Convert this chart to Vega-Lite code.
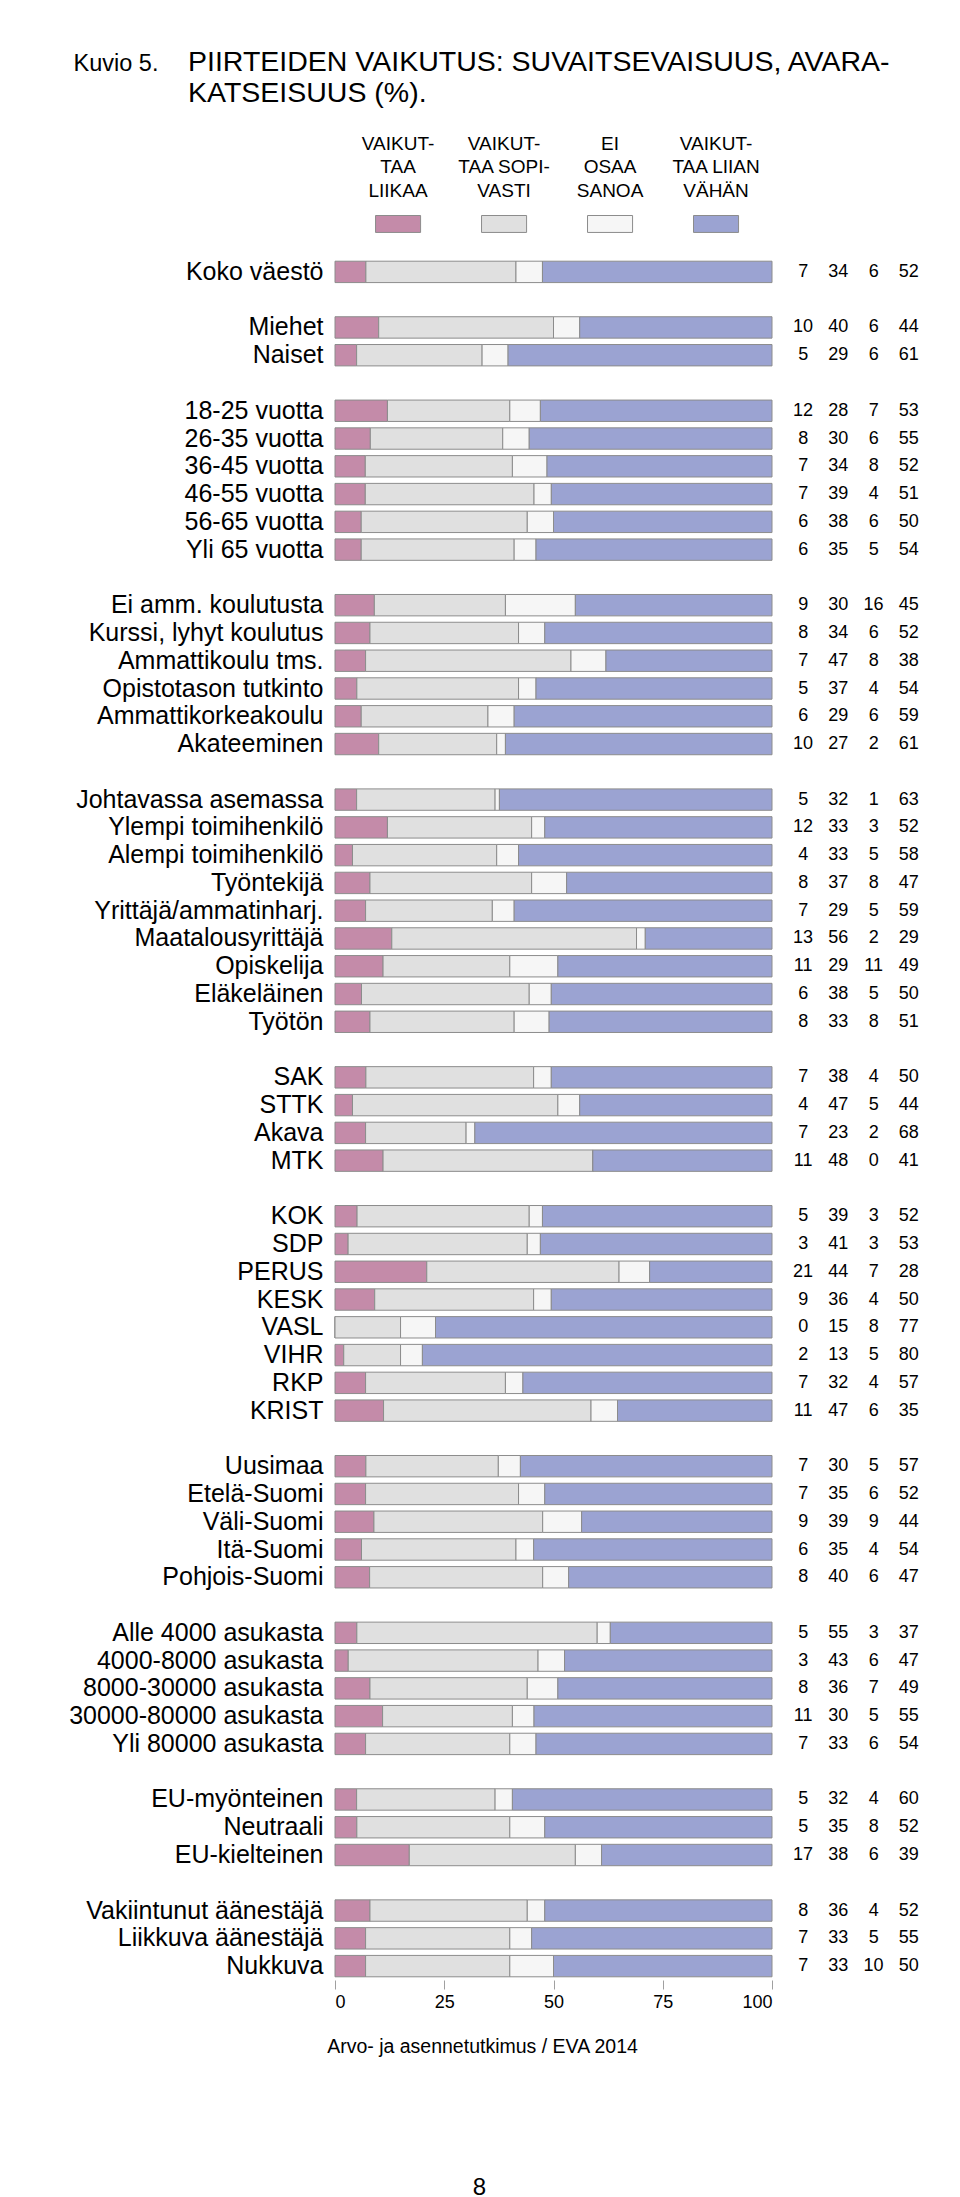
{
  "$schema": "https://vega.github.io/schema/vega-lite/v6.json",
  "background": "white",
  "padding": {"left": 68, "top": 48, "right": 30, "bottom": 0},
  "config": {"font": "Liberation Sans", "view": {"stroke": null}},
  "bounds": "flush",
  "align": "each",
  "columns": 2,
  "spacing": {"row": 25, "column": 13.5},
  "resolve": {"scale": {"x": "independent", "y": "independent", "color": "shared"}},
  "datasets": {
    "rows": [
      {"g": "Koko väestö", "a": 7, "b": 34, "c": 6, "d": 52},
      {"g": "Miehet", "a": 10, "b": 40, "c": 6, "d": 44},
      {"g": "Naiset", "a": 5, "b": 29, "c": 6, "d": 61},
      {"g": "18-25 vuotta", "a": 12, "b": 28, "c": 7, "d": 53},
      {"g": "26-35 vuotta", "a": 8, "b": 30, "c": 6, "d": 55},
      {"g": "36-45 vuotta", "a": 7, "b": 34, "c": 8, "d": 52},
      {"g": "46-55 vuotta", "a": 7, "b": 39, "c": 4, "d": 51},
      {"g": "56-65 vuotta", "a": 6, "b": 38, "c": 6, "d": 50},
      {"g": "Yli 65 vuotta", "a": 6, "b": 35, "c": 5, "d": 54},
      {"g": "Ei amm. koulutusta", "a": 9, "b": 30, "c": 16, "d": 45},
      {"g": "Kurssi, lyhyt koulutus", "a": 8, "b": 34, "c": 6, "d": 52},
      {"g": "Ammattikoulu tms.", "a": 7, "b": 47, "c": 8, "d": 38},
      {"g": "Opistotason tutkinto", "a": 5, "b": 37, "c": 4, "d": 54},
      {"g": "Ammattikorkeakoulu", "a": 6, "b": 29, "c": 6, "d": 59},
      {"g": "Akateeminen", "a": 10, "b": 27, "c": 2, "d": 61},
      {"g": "Johtavassa asemassa", "a": 5, "b": 32, "c": 1, "d": 63},
      {"g": "Ylempi toimihenkilö", "a": 12, "b": 33, "c": 3, "d": 52},
      {"g": "Alempi toimihenkilö", "a": 4, "b": 33, "c": 5, "d": 58},
      {"g": "Työntekijä", "a": 8, "b": 37, "c": 8, "d": 47},
      {"g": "Yrittäjä/ammatinharj.", "a": 7, "b": 29, "c": 5, "d": 59},
      {"g": "Maatalousyrittäjä", "a": 13, "b": 56, "c": 2, "d": 29},
      {"g": "Opiskelija", "a": 11, "b": 29, "c": 11, "d": 49},
      {"g": "Eläkeläinen", "a": 6, "b": 38, "c": 5, "d": 50},
      {"g": "Työtön", "a": 8, "b": 33, "c": 8, "d": 51},
      {"g": "SAK", "a": 7, "b": 38, "c": 4, "d": 50},
      {"g": "STTK", "a": 4, "b": 47, "c": 5, "d": 44},
      {"g": "Akava", "a": 7, "b": 23, "c": 2, "d": 68},
      {"g": "MTK", "a": 11, "b": 48, "c": 0, "d": 41},
      {"g": "KOK", "a": 5, "b": 39, "c": 3, "d": 52},
      {"g": "SDP", "a": 3, "b": 41, "c": 3, "d": 53},
      {"g": "PERUS", "a": 21, "b": 44, "c": 7, "d": 28},
      {"g": "KESK", "a": 9, "b": 36, "c": 4, "d": 50},
      {"g": "VASL", "a": 0, "b": 15, "c": 8, "d": 77},
      {"g": "VIHR", "a": 2, "b": 13, "c": 5, "d": 80},
      {"g": "RKP", "a": 7, "b": 32, "c": 4, "d": 57},
      {"g": "KRIST", "a": 11, "b": 47, "c": 6, "d": 35},
      {"g": "Uusimaa", "a": 7, "b": 30, "c": 5, "d": 57},
      {"g": "Etelä-Suomi", "a": 7, "b": 35, "c": 6, "d": 52},
      {"g": "Väli-Suomi", "a": 9, "b": 39, "c": 9, "d": 44},
      {"g": "Itä-Suomi", "a": 6, "b": 35, "c": 4, "d": 54},
      {"g": "Pohjois-Suomi", "a": 8, "b": 40, "c": 6, "d": 47},
      {"g": "Alle 4000 asukasta", "a": 5, "b": 55, "c": 3, "d": 37},
      {"g": "4000-8000 asukasta", "a": 3, "b": 43, "c": 6, "d": 47},
      {"g": "8000-30000 asukasta", "a": 8, "b": 36, "c": 7, "d": 49},
      {"g": "30000-80000 asukasta", "a": 11, "b": 30, "c": 5, "d": 55},
      {"g": "Yli 80000 asukasta", "a": 7, "b": 33, "c": 6, "d": 54},
      {"g": "EU-myönteinen", "a": 5, "b": 32, "c": 4, "d": 60},
      {"g": "Neutraali", "a": 5, "b": 35, "c": 8, "d": 52},
      {"g": "EU-kielteinen", "a": 17, "b": 38, "c": 6, "d": 39},
      {"g": "Vakiintunut äänestäjä", "a": 8, "b": 36, "c": 4, "d": 52},
      {"g": "Liikkuva äänestäjä", "a": 7, "b": 33, "c": 5, "d": 55},
      {"g": "Nukkuva", "a": 7, "b": 33, "c": 10, "d": 50}
    ],
    "legend": [
      {"k": "a", "t": "VAIKUT-\nTAA\nLIIKAA"},
      {"k": "b", "t": "VAIKUT-\nTAA SOPI-\nVASTI"},
      {"k": "c", "t": "EI\nOSAA\nSANOA"},
      {"k": "d", "t": "VAIKUT-\nTAA LIIAN\nVÄHÄN"}
    ]
  },
  "concat": [
    {
      "width": 437,
      "height": 73.45,
      "data": {"name": "legend"},
      "title": {
        "text": ["PIIRTEIDEN VAIKUTUS: SUVAITSEVAISUUS, AVARA-", "KATSEISUUS (%)."],
        "anchor": "start",
        "frame": "group",
        "dx": -147,
        "fontSize": 28.5,
        "fontWeight": "normal",
        "color": "#000000",
        "lineHeight": 31,
        "offset": 27
      },
      "encoding": {
        "x": {
          "field": "k",
          "type": "nominal",
          "scale": {"domain": ["a", "b", "c", "d"], "paddingInner": 0.575, "paddingOuter": 0.349, "align": 0.548},
          "axis": null
        }
      },
      "layer": [
        {
          "mark": {"type": "bar", "stroke": "#8c8c8c", "strokeWidth": 1},
          "encoding": {
            "y": {
              "datum": "swatch",
              "type": "nominal",
              "scale": {"domain": ["label", "swatch"], "paddingInner": 0.7, "paddingOuter": 0},
              "axis": null
            },
            "color": {
              "field": "k",
              "type": "nominal",
              "scale": {"domain": ["a", "b", "c", "d"], "range": ["#c48ba9", "#e0e0e0", "#f6f6f6", "#9ba3d2"]},
              "legend": null
            }
          }
        },
        {
          "mark": {"type": "text", "fontSize": 19, "lineBreak": "\n", "lineHeight": 23.5, "baseline": "middle", "align": "center", "dy": -23.5, "color": "#000000"},
          "encoding": {
            "y": {"datum": "label", "type": "nominal"},
            "text": {"field": "t", "type": "nominal"}
          }
        }
      ]
    },
    {
      "width": 141,
      "height": 73.45,
      "data": {"values": []},
      "mark": "text",
      "encoding": {},
      "title": {
        "text": "Kuvio 5.",
        "anchor": "start",
        "frame": "group",
        "dx": -712,
        "fontSize": 23.5,
        "fontWeight": "normal",
        "color": "#000000",
        "offset": 84
      }
    },
    {
      "width": 437,
      "height": 1722,
      "data": {"name": "rows"},
      "transform": [{"fold": ["a", "b", "c", "d"], "as": ["k", "v"]}],
      "mark": {"type": "bar", "stroke": "#8c8c8c", "strokeWidth": 1},
      "encoding": {
        "y": {
          "field": "g",
          "type": "nominal",
          "scale": {
            "domain": ["Koko väestö", " ", "Miehet", "Naiset", "  ", "18-25 vuotta", "26-35 vuotta", "36-45 vuotta", "46-55 vuotta", "56-65 vuotta", "Yli 65 vuotta", "   ", "Ei amm. koulutusta", "Kurssi, lyhyt koulutus", "Ammattikoulu tms.", "Opistotason tutkinto", "Ammattikorkeakoulu", "Akateeminen", "    ", "Johtavassa asemassa", "Ylempi toimihenkilö", "Alempi toimihenkilö", "Työntekijä", "Yrittäjä/ammatinharj.", "Maatalousyrittäjä", "Opiskelija", "Eläkeläinen", "Työtön", "     ", "SAK", "STTK", "Akava", "MTK", "      ", "KOK", "SDP", "PERUS", "KESK", "VASL", "VIHR", "RKP", "KRIST", "       ", "Uusimaa", "Etelä-Suomi", "Väli-Suomi", "Itä-Suomi", "Pohjois-Suomi", "        ", "Alle 4000 asukasta", "4000-8000 asukasta", "8000-30000 asukasta", "30000-80000 asukasta", "Yli 80000 asukasta", "         ", "EU-myönteinen", "Neutraali", "EU-kielteinen", "          ", "Vakiintunut äänestäjä", "Liikkuva äänestäjä", "Nukkuva"],
            "paddingInner": 0.23,
            "paddingOuter": 0.115
          },
          "axis": {"title": null, "ticks": false, "domain": false, "labelFontSize": 25, "labelColor": "#000000", "labelPadding": 12, "labelLimit": 400}
        },
        "x": {
          "field": "v",
          "type": "quantitative",
          "stack": "normalize",
          "scale": {"domain": [0, 1], "nice": false},
          "axis": {
            "values": [0, 0.25, 0.5, 0.75, 1],
            "labelExpr": "format(datum.value * 100, 'd')",
            "grid": false,
            "domain": false,
            "tickColor": "#a0a0a0",
            "tickSize": 9,
            "labelFontSize": 18,
            "labelColor": "#000000",
            "labelPadding": 4,
            "title": "Arvo- ja asennetutkimus / EVA 2014",
            "titleFontSize": 19.5,
            "titleFontWeight": "normal",
            "titleColor": "#000000",
            "titleX": 147,
            "titleY": 72,
            "titleBaseline": "alphabetic",
            "titleAlign": "center"
          }
        },
        "color": {"field": "k", "type": "nominal", "legend": null},
        "order": {"field": "k", "sort": "ascending"}
      }
    },
    {
      "width": 141,
      "height": 1722,
      "data": {"name": "rows"},
      "transform": [{"fold": ["a", "b", "c", "d"], "as": ["k", "v"]}],
      "mark": {"type": "text", "fontSize": 18, "baseline": "middle", "align": "center", "color": "#000000"},
      "encoding": {
        "y": {
          "field": "g",
          "type": "nominal",
          "scale": {
            "domain": ["Koko väestö", " ", "Miehet", "Naiset", "  ", "18-25 vuotta", "26-35 vuotta", "36-45 vuotta", "46-55 vuotta", "56-65 vuotta", "Yli 65 vuotta", "   ", "Ei amm. koulutusta", "Kurssi, lyhyt koulutus", "Ammattikoulu tms.", "Opistotason tutkinto", "Ammattikorkeakoulu", "Akateeminen", "    ", "Johtavassa asemassa", "Ylempi toimihenkilö", "Alempi toimihenkilö", "Työntekijä", "Yrittäjä/ammatinharj.", "Maatalousyrittäjä", "Opiskelija", "Eläkeläinen", "Työtön", "     ", "SAK", "STTK", "Akava", "MTK", "      ", "KOK", "SDP", "PERUS", "KESK", "VASL", "VIHR", "RKP", "KRIST", "       ", "Uusimaa", "Etelä-Suomi", "Väli-Suomi", "Itä-Suomi", "Pohjois-Suomi", "        ", "Alle 4000 asukasta", "4000-8000 asukasta", "8000-30000 asukasta", "30000-80000 asukasta", "Yli 80000 asukasta", "         ", "EU-myönteinen", "Neutraali", "EU-kielteinen", "          ", "Vakiintunut äänestäjä", "Liikkuva äänestäjä", "Nukkuva"],
            "paddingInner": 0.23,
            "paddingOuter": 0.115
          },
          "axis": null
        },
        "x": {
          "field": "k",
          "type": "nominal",
          "scale": {"domain": ["a", "b", "c", "d"], "paddingInner": 0, "paddingOuter": 0},
          "axis": {"labels": false, "ticks": false, "domain": false, "title": "8", "titleFontSize": 24, "titleFontWeight": "normal", "titleColor": "#000000", "titleX": -306.5, "titleY": 214, "titleBaseline": "alphabetic", "titleAlign": "center"}
        },
        "text": {"field": "v", "type": "quantitative"}
      }
    }
  ]
}
